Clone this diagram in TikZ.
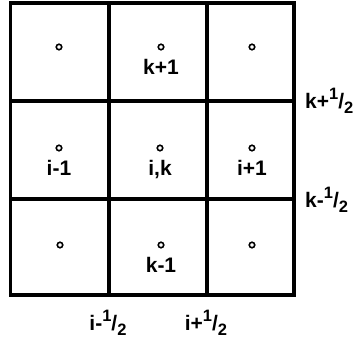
\documentclass[tikz,border=0pt]{standalone}
\usepackage{fontspec}
\setmainfont{Liberation Sans}
\usetikzlibrary{positioning}
\newcommand\halfup{\raisebox{0.42em}{\fontsize{16.5}{16.5}\selectfont 1}/\raisebox{-0.28em}{\fontsize{16.5}{16.5}\selectfont 2}}

\begin{document}
\begin{tikzpicture}[x=1pt,y=-1pt,
  node distance=8.5pt,
  cell/.style={line width=3.4pt},
  pnt/.style={circle,draw,line width=1.6pt,inner sep=0pt,minimum size=5.5pt},
  lab/.style={font=\fontsize{21}{21}\selectfont\bfseries,inner sep=0pt}]
\useasboundingbox (0,0) rectangle (357,341);
% grid of cells
\draw[cell] (10.5,3) rectangle (294,295);
\foreach \x in {109,207} \draw[cell] (\x,3) -- (\x,295);
\foreach \y in {101,199} \draw[cell] (10.5,\y) -- (294,\y);
% cell centres
\node[pnt] (d11) at (59,47) {};
\node[pnt] (d12) at (161,47) {};
\node[pnt] (d13) at (252,47) {};
\node[pnt] (d21) at (59,148) {};
\node[pnt] (d22) at (160,148) {};
\node[pnt] (d23) at (252,148) {};
\node[pnt] (d31) at (60,245) {};
\node[pnt] (d32) at (161,245) {};
\node[pnt] (d33) at (252,245) {};
\node[lab,below=of d12] (kp) {k+1};
\node[lab,below=of d21] (im) {i-1};
\node[lab,below=of d22] (ik) {i,k};
\node[lab,below=of d23] (ip) {i+1};
\node[lab,below=of d32] (km) {k-1};
% faces
\node[lab,anchor=base west] (kph) at (305,108) {k+\halfup};
\node[lab,anchor=base west] (kmh) at (305,207) {k-\halfup};
\node[lab,anchor=base] (imh) at (108,330) {i-\halfup};
\node[lab,anchor=base] (iph) at (206,330) {i+\halfup};
\end{tikzpicture}
\end{document}
